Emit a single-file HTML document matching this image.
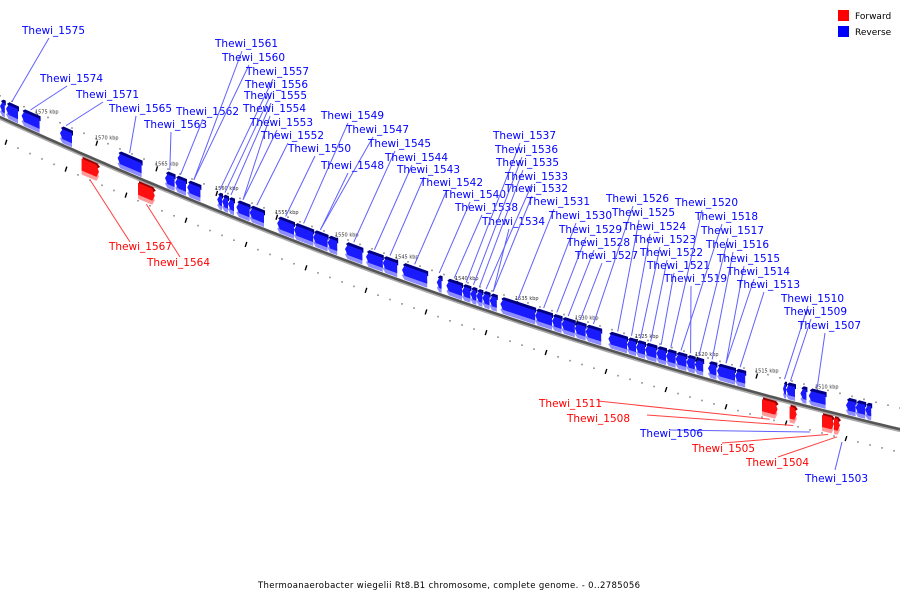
<!DOCTYPE html>
<html><head><meta charset="utf-8">
<style>
html,body{margin:0;padding:0;background:#fff;}
svg{display:block;font-family:"DejaVu Sans","Liberation Sans",sans-serif;}
</style></head>
<body>
<svg id="chart" width="900" height="600" viewBox="0 0 900 600" xmlns="http://www.w3.org/2000/svg">
  <rect x="0" y="0" width="900" height="600" fill="#fff"/>
  <g id="ruler"></g>
  <g id="backbone"></g>
  <g id="genes"></g>
  <g id="labels"></g>
  <g>
    <rect x="838" y="10" width="11" height="11" fill="#ff0000"/>
    <text x="855" y="19" font-size="9" fill="#000">Forward</text>
    <rect x="838" y="26" width="11" height="11" fill="#0000ff"/>
    <text x="855" y="35" font-size="9" fill="#000">Reverse</text>
  </g>
  <text x="449" y="588" text-anchor="middle" font-size="8.5" textLength="382" lengthAdjust="spacing" fill="#000">Thermoanaerobacter wiegelii Rt8.B1 chromosome, complete genome. - 0..2785056</text>
</svg>
<script>
// ---- data (kbp) ----
const revStarts = [1578.0,1577.5,1576.2,1573.0,1568.2,1564.25,1563.4,1562.4,1559.9,1559.5,1559.0,1558.3,1557.2,1554.9,1553.5,1551.9,1550.7,1549.25,1547.5,1546.1,1544.5,1541.6,1540.8,1539.5,1538.8,1538.3,1537.8,1537.2,1536.3,1533.4,1532.0,1531.2,1530.1,1529.2,1527.3,1525.75,1525.0,1524.25,1523.3,1522.5,1521.7,1520.8,1520.1,1519.0,1518.25,1516.75,1512.75,1512.5,1511.3,1510.6,1507.5,1506.7,1505.9];
const revEnds = [1577.6,1576.5,1574.7,1572.0,1566.2,1563.45,1562.5,1561.3,1559.5,1559.0,1558.5,1557.2,1556.0,1553.5,1551.9,1550.7,1549.9,1547.8,1546.1,1544.9,1542.4,1541.2,1539.5,1538.8,1538.3,1537.8,1537.2,1536.6,1533.4,1532.0,1531.2,1530.1,1529.2,1527.9,1525.75,1525.0,1524.25,1523.3,1522.5,1521.7,1520.8,1520.1,1519.4,1518.3,1516.75,1515.9,1512.5,1511.75,1510.8,1509.2,1506.7,1505.9,1505.4];
const fwdStarts = [1571.2,1566.5,1514.5,1512.2,1509.5,1508.5];
const fwdEnds = [1569.75,1565.1,1513.2,1511.6,1508.5,1508.0];
const tickKbp = [1575,1570,1565,1560,1555,1550,1545,1540,1535,1530,1525,1520,1515,1510];
const tickLabels = ["1575 kbp","1570 kbp","1565 kbp","1560 kbp","1555 kbp","1550 kbp","1545 kbp","1540 kbp","1535 kbp","1530 kbp","1525 kbp","1520 kbp","1515 kbp","1510 kbp"];
const labelNames = ["Thewi_1575","Thewi_1574","Thewi_1571","Thewi_1565","Thewi_1563","Thewi_1562","Thewi_1561","Thewi_1560","Thewi_1557","Thewi_1556","Thewi_1555","Thewi_1554","Thewi_1553","Thewi_1552","Thewi_1550","Thewi_1549","Thewi_1547","Thewi_1548","Thewi_1545","Thewi_1544","Thewi_1543","Thewi_1542","Thewi_1540","Thewi_1538","Thewi_1534","Thewi_1537","Thewi_1536","Thewi_1535","Thewi_1533","Thewi_1532","Thewi_1531","Thewi_1530","Thewi_1529","Thewi_1528","Thewi_1527","Thewi_1526","Thewi_1525","Thewi_1524","Thewi_1523","Thewi_1522","Thewi_1521","Thewi_1519","Thewi_1520","Thewi_1518","Thewi_1517","Thewi_1516","Thewi_1515","Thewi_1514","Thewi_1513","Thewi_1510","Thewi_1509","Thewi_1507"];
const labelGene = [1,2,3,4,5,6,7,7,8,9,10,11,11,12,13,14,15,15,17,18,19,20,21,22,27,23,24,25,26,27,28,29,30,31,32,33,34,35,36,37,38,41,39,40,42,43,44,44,45,46,47,49];
const fwdLabelNames = ["Thewi_1567","Thewi_1564","Thewi_1511","Thewi_1508","Thewi_1505","Thewi_1504"];
const fwdLabelGene = [0,1,2,3,4,5];

// ---- layout (styling) ----
const labelPos = [[22,34],[40,82],[76,98],[109,112],[144,128],[176,115],[215,47],[222,61],[246,75],[245,88],[244,99],[243,112],[250,126],[261,139],[288,152],[321,119],[346,133],[321,169],[368,147],[385,161],[397,173],[420,186],[443,198],[455,211],[482,225],[493,139],[495,153],[496,166],[505,180],[505,192],[527,205],[549,219],[559,233],[567,246],[575,259],[606,202],[612,216],[623,230],[633,243],[640,256],[647,269],[664,282],[675,206],[695,220],[701,234],[706,248],[717,262],[727,275],[737,288],[781,302],[784,315],[798,329]];
const fwdLabelPos = [[109,250],[147,266],[539,407],[567,422],[692,452],[746,466]];
const fwdLeadStart = [[130,242],[180,257],[598,401],[647,415],[722,443],[778,457]];

const NS="http://www.w3.org/2000/svg";
function lineY(x){return 117+0.4567*x-0.000122*x*x;}
function kx(k){return (1578-k)*12;}
function mk(tag,attrs,parent){const e=document.createElementNS(NS,tag);for(const k in attrs)e.setAttribute(k,attrs[k]);parent.appendChild(e);return e;}
const G={ruler:document.getElementById('ruler'),bb:document.getElementById('backbone'),genes:document.getElementById('genes'),labels:document.getElementById('labels')};

let d="",d2="";
for(let x=-5;x<=905;x+=5){d+=(x===-5?"M":"L")+x+","+lineY(x).toFixed(2);d2+=(x===-5?"M":"L")+x+","+(lineY(x)+2).toFixed(2);}
const bl2=mk('path',{d:d2,stroke:'#aaa','stroke-width':2,fill:'none'},G.bb);


const bl=mk('path',{d:d,stroke:'#555','stroke-width':2.6,fill:'none'},G.bb);



for(let k=1578;k>=1503;k-=1){
  const x=kx(k);
  if(x<0||x>900)continue;
  const y=lineY(x);
  const da=mk('rect',{x:x-0.8,y:y-22,width:1.6,height:1.6,fill:'#888'},G.ruler);
  
  
  const xb=x+6, yb=lineY(xb)+23;
  if((k%5)===3){
    const db=mk('line',{x1:xb+0.8,y1:yb-3,x2:xb-0.8,y2:yb+2,stroke:'#000','stroke-width':1.4},G.ruler);
    
    
  } else {
    const db=mk('rect',{x:xb-0.8,y:yb-0.8,width:1.6,height:1.6,fill:'#888'},G.ruler);
    
    
  }
}
tickKbp.forEach((k,i)=>{
  const x=kx(k),y=lineY(x);
  const t=mk('line',{x1:x+1.5,y1:y-19,x2:x,y2:y-14,stroke:'#000','stroke-width':1.4},G.ruler);
  
  
  const tx=mk('text',{x:x-1,y:y-20,'font-size':5,fill:'#333'},G.ruler);
  tx.textContent=tickLabels[i];
  
  
});

function pts(a){return a.map(p=>p[0].toFixed(1)+","+p[1].toFixed(1)).join(" ");}
function geneShape(x1,x2,o1,o2,dir){
  const w=x2-x1, head=Math.min(2.5,w/2), m=(o1+o2)/2;
  if(dir<0){
    return [[x1,lineY(x1)+m],[x1+head,lineY(x1+head)+o1],[x2,lineY(x2)+o1],[x2,lineY(x2)+o2],[x1+head,lineY(x1+head)+o2]];
  }
  return [[x1,lineY(x1)+o1],[x2-head,lineY(x2-head)+o1],[x2,lineY(x2)+m],[x2-head,lineY(x2-head)+o2],[x1,lineY(x1)+o2]];
}
revStarts.forEach((s,i)=>{
  const x1=kx(s),x2=kx(revEnds[i]);
  const g=mk('g',{},G.genes);
  
  
  mk('polygon',{points:pts(geneShape(x1,x2,-9,-2,-1)),fill:'#8c8cff'},g);
  mk('polygon',{points:pts(geneShape(x1+1,x2+1,-19,-14,-1)),fill:'#000080'},g);
  mk('polygon',{points:pts(geneShape(x1,x2,-16,-6,-1)),fill:'#1a1aff'},g);
});
fwdStarts.forEach((s,i)=>{
  const x1=kx(s),x2=kx(fwdEnds[i]);
  const g=mk('g',{},G.genes);
  
  
  mk('polygon',{points:pts(geneShape(x1,x2,10,21,1)),fill:'#ff9a9a'},g);
  mk('polygon',{points:pts(geneShape(x1+1,x2+1,3,8,1)),fill:'#990000'},g);
  mk('polygon',{points:pts(geneShape(x1,x2,5,17,1)),fill:'#ff1010'},g);
});

labelNames.forEach((n,i)=>{
  const gi=labelGene[i];
  const gx=(kx(revStarts[gi])+kx(revEnds[gi]))/2;
  const gy=lineY(gx)-21;
  const [lx,ly]=labelPos[i];
  const l=mk('line',{x1:lx+27,y1:ly+4,x2:gx,y2:gy,stroke:'#6060ff','stroke-width':1},G.labels);
  
  
  const t=mk('text',{x:lx,y:ly,'font-size':10.5,fill:'#0000ff'},G.labels);
  t.textContent=n;
  
  
});
[["Thewi_1506",640,437,670,430,810,432],["Thewi_1503",805,482,835,470,842,442]].forEach(a=>{
  const l=mk('line',{x1:a[3],y1:a[4],x2:a[5],y2:a[6],stroke:'#6060ff','stroke-width':1},G.labels);
  
  
  const t=mk('text',{x:a[1],y:a[2],'font-size':10.5,fill:'#0000ff'},G.labels);
  t.textContent=a[0];
  
  
});
fwdLabelNames.forEach((n,i)=>{
  const gi=fwdLabelGene[i];
  const gx=(kx(fwdStarts[gi])+kx(fwdEnds[gi]))/2;
  const gy=lineY(gx)+23;
  const [lx,ly]=fwdLabelPos[i];
  const [sx,sy]=fwdLeadStart[i];
  const l=mk('line',{x1:sx,y1:sy,x2:gx,y2:gy,stroke:'#ff4040','stroke-width':1},G.labels);
  
  
  const t=mk('text',{x:lx,y:ly,'font-size':10.5,fill:'#ff0000'},G.labels);
  t.textContent=n;
  
  
});
</script>
</body></html>
